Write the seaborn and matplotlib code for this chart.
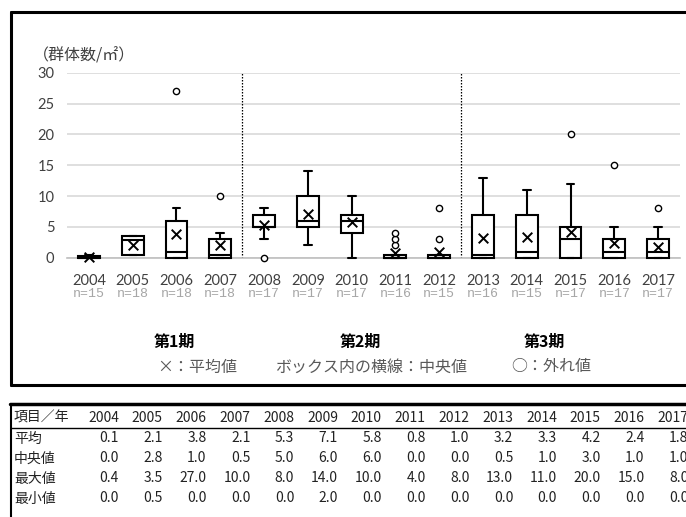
import matplotlib
matplotlib.use("Agg")
import matplotlib.pyplot as plt
from matplotlib.lines import Line2D
from matplotlib.transforms import blended_transform_factory
import seaborn as sns

# ---- data -------------------------------------------------------------
years = [2004, 2005, 2006, 2007, 2008, 2009, 2010,
         2011, 2012, 2013, 2014, 2015, 2016, 2017]
n_obs = [15, 18, 18, 18, 17, 17, 17, 16, 15, 16, 15, 17, 17, 17]

mean_vals = [0.1, 2.1, 3.8, 2.1, 5.3, 7.1, 5.8, 0.8, 1.0, 3.2, 3.3, 4.2, 2.4, 1.8]
median_vals = [0.0, 2.8, 1.0, 0.5, 5.0, 6.0, 6.0, 0.0, 0.0, 0.5, 1.0, 3.0, 1.0, 1.0]
max_vals = [0.4, 3.5, 27.0, 10.0, 8.0, 14.0, 10.0, 4.0, 8.0, 13.0, 11.0, 20.0, 15.0, 8.0]
min_vals = [0.0, 0.5, 0.0, 0.0, 0.0, 2.0, 0.0, 0.0, 0.0, 0.0, 0.0, 0.0, 0.0, 0.0]

q1_vals = [0.0, 0.5, 0.0, 0.0, 5.0, 5.0, 4.0, 0.0, 0.0, 0.0, 0.0, 0.0, 0.0, 0.0]
q3_vals = [0.2, 3.5, 6.0, 3.0, 7.0, 10.0, 7.0, 0.5, 0.5, 7.0, 7.0, 5.0, 3.0, 3.0]
whisker_low = [0.0, 0.5, 0.0, 0.0, 3.0, 2.0, 0.0, 0.0, 0.0, 0.0, 0.0, 0.0, 0.0, 0.0]
whisker_high = [0.4, 3.5, 8.0, 4.0, 8.0, 14.0, 10.0, 0.5, 0.5, 13.0, 11.0, 12.0, 5.0, 5.0]
outliers = [[], [], [27.0], [10.0], [0.0], [], [], [2.0, 3.0, 4.0], [3.0, 8.0],
            [], [], [20.0], [15.0], [8.0]]

period_labels = ["第1期", "第2期", "第3期"]
legend_items = ["×：平均値", "ボックス内の横線：中央値", "○：外れ値"]
row_labels = ["項目／年", "平均", "中央値", "最大値", "最小値"]
y_title = "（群体数/㎡）"

# ---- style ------------------------------------------------------------
sns.set_theme(style="white")
plt.rcParams["font.family"] = ["Noto Sans CJK JP", "DejaVu Sans"]

W, H = 686, 517
fig = plt.figure(figsize=(W / 100, H / 100), dpi=100)
fig.patch.set_facecolor("white")


def fx(x):
    return x / W


def fy(y):
    return 1 - y / H


# ---- box plot ---------------------------------------------------------
y_top, y_zero = 72.7, 257.7
ax = fig.add_axes([fx(67), fy(y_zero), (680 - 67) / W, (y_zero - y_top) / H])
positions = list(range(len(years)))

stats = []
for i, yr in enumerate(years):
    stats.append(dict(label=str(yr), q1=q1_vals[i], med=median_vals[i],
                      q3=q3_vals[i], whislo=whisker_low[i],
                      whishi=whisker_high[i], fliers=outliers[i]))

ax.set_ylim(0, 30)
ax.set_xlim(-0.5, len(years) - 0.5)
ax.yaxis.grid(True, color="#d9d9d9", linewidth=1.2)
ax.set_axisbelow(True)

parts = ax.bxp(stats, positions=positions, widths=0.5, capwidths=0.18,
               patch_artist=True, showfliers=True,
               boxprops=dict(facecolor="white", edgecolor="black", linewidth=1.5),
               medianprops=dict(color="black", linewidth=1.5),
               whiskerprops=dict(color="black", linewidth=1.5),
               capprops=dict(color="black", linewidth=1.5),
               flierprops=dict(marker="o", markerfacecolor="white",
                               markeredgecolor="black", markersize=4.5,
                               markeredgewidth=1.0))
for group in parts.values():
    for art in group:
        art.set_clip_on(False)
        art.set_zorder(3)

sns.scatterplot(x=positions, y=mean_vals, marker="x", color="black", s=48,
                linewidth=1.4, ax=ax, zorder=5, legend=False, clip_on=False)

# period separators
for xsep in (3.5, 8.5):
    ax.axvline(xsep, ymin=0, ymax=1, color="black", linewidth=0.9,
               linestyle=(0, (1.2, 1.2)), zorder=2)

for side in ("left", "right", "top"):
    ax.spines[side].set_visible(False)
ax.spines["bottom"].set_color("#bfbfbf")
ax.spines["bottom"].set_linewidth(1.2)

ax.set_yticks(range(0, 31, 5))
ax.tick_params(axis="y", length=0, pad=9, labelsize=10.5, labelcolor="#404040")
ax.set_xticks(positions)
ax.set_xticklabels([str(y) for y in years])
ax.tick_params(axis="x", length=0, pad=12, labelsize=10.5, labelcolor="#404040")
ax.set_xticks([p + 0.5 for p in positions[:-1]], minor=True)
ax.tick_params(axis="x", which="minor", direction="in", length=4,
               color="#bfbfbf", width=1)
for lbl in ax.get_yticklabels() + ax.get_xticklabels():
    lbl.set_fontfamily(["Lato", "DejaVu Sans"])
ax.set_xlabel("")
ax.set_ylabel("")

trans = blended_transform_factory(ax.transData, fig.transFigure)
for p, n in zip(positions, n_obs):
    ax.text(p, fy(294), f"n={n}", transform=trans, ha="center", va="center",
            fontsize=9.5, color="#a6a6a6", family=["Liberation Mono", "DejaVu Sans Mono"])

fig.text(fx(33), fy(56), y_title, ha="left", va="center", fontsize=11.5,
         color="#404040")

for label, xc in zip(period_labels, (174, 360, 544)):
    fig.text(fx(xc), fy(342), label, ha="center", va="center", fontsize=11.5,
             fontweight="bold", color="black")
for label, xs in zip(legend_items, (157, 275, 511)):
    fig.text(fx(xs), fy(367), label, ha="left", va="center", fontsize=11.5,
             color="#595959")

# chart frame
frame_kw = dict(color="black", linewidth=2.2, transform=fig.transFigure)
fig.add_artist(Line2D([fx(11), fx(W + 5)], [fy(12), fy(12)], **frame_kw))
fig.add_artist(Line2D([fx(11), fx(11)], [fy(12), fy(385)], **frame_kw))
fig.add_artist(Line2D([fx(11), fx(W + 5)], [fy(385), fy(385)], **frame_kw))

# ---- summary table ----------------------------------------------------
fig.add_artist(Line2D([fx(10), fx(W + 5)], [fy(404), fy(404)], color="black",
                      linewidth=2.5, transform=fig.transFigure))
fig.add_artist(Line2D([fx(11), fx(11)], [fy(404), fy(H + 5)], color="black",
                      linewidth=1.5, transform=fig.transFigure))
fig.add_artist(Line2D([fx(11), fx(W + 5)], [fy(428), fy(428)], color="black",
                      linewidth=1.0, transform=fig.transFigure))

table_font = ["Liberation Sans Narrow", "Noto Sans CJK JP", "DejaVu Sans"]
row_y = [417.5, 438.5, 458.5, 478.5, 498.5]
rows = [years, mean_vals, median_vals, max_vals, min_vals]
for r, (lab, yy, vals) in enumerate(zip(row_labels, row_y, rows)):
    fig.text(fx(14), fy(yy), lab, ha="left", va="center", fontsize=10,
             color="#222222", family=["Noto Sans CJK JP", "DejaVu Sans"])
    for c, v in enumerate(vals):
        txt = str(v) if r == 0 else f"{v:.1f}"
        fig.text(fx(119 + 43.8 * c), fy(yy), txt, ha="right", va="center",
                 fontsize=10, color="#222222", family=table_font)

fig.savefig("out.png", dpi=100, facecolor="white")
